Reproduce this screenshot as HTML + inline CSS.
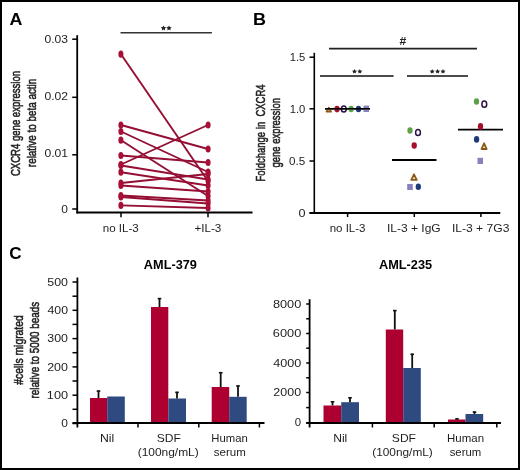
<!DOCTYPE html>
<html><head><meta charset="utf-8"><style>
html,body{margin:0;padding:0;background:#fff;}
body{width:520px;height:470px;overflow:hidden;}
svg{display:block;font-family:"Liberation Sans", sans-serif;will-change:transform;}
</style></head><body>
<svg width="520" height="470" viewBox="0 0 520 470">
<rect x="0" y="0" width="520" height="470" fill="#fff"/>
<text x="9.55" y="24.80" font-size="16.8" font-weight="bold" fill="#000" textLength="12.93" lengthAdjust="spacingAndGlyphs" >A</text>
<text transform="translate(20.00,175.60) rotate(-90)" x="-0.48" y="0" font-size="13" font-weight="normal" fill="#222" stroke="#222" stroke-width="0.55" textLength="105.11" lengthAdjust="spacingAndGlyphs" xml:space="preserve">CXCR4 gene expression</text>
<text transform="translate(36.30,166.50) rotate(-90)" x="-0.64" y="0" font-size="13" font-weight="normal" fill="#222" stroke="#222" stroke-width="0.55" textLength="88.38" lengthAdjust="spacingAndGlyphs" xml:space="preserve">relative to beta actin</text>
<line x1="77.2" y1="35.2" x2="77.2" y2="213.5" stroke="#000" stroke-width="1.8"/>
<line x1="76.5" y1="212.5" x2="252.5" y2="212.5" stroke="#000" stroke-width="2"/>
<line x1="72.2" y1="39.2" x2="77" y2="39.2" stroke="#000" stroke-width="1.5"/>
<text x="44.52" y="43.40" font-size="11" font-weight="normal" fill="#1e1e1e" textLength="23.54" lengthAdjust="spacingAndGlyphs" >0.03</text>
<line x1="72.2" y1="97.3" x2="77" y2="97.3" stroke="#000" stroke-width="1.5"/>
<text x="44.51" y="99.60" font-size="11" font-weight="normal" fill="#1e1e1e" textLength="23.61" lengthAdjust="spacingAndGlyphs" >0.02</text>
<line x1="72.2" y1="154.8" x2="77" y2="154.8" stroke="#000" stroke-width="1.5"/>
<text x="44.51" y="156.60" font-size="11" font-weight="normal" fill="#1e1e1e" textLength="23.61" lengthAdjust="spacingAndGlyphs" >0.01</text>
<line x1="72.2" y1="209" x2="77" y2="209" stroke="#000" stroke-width="1.5"/>
<text x="61.32" y="212.50" font-size="11" font-weight="normal" fill="#1e1e1e" textLength="6.67" lengthAdjust="spacingAndGlyphs" >0</text>
<line x1="121" y1="213" x2="121" y2="217.2" stroke="#000" stroke-width="1.5"/>
<line x1="208" y1="213" x2="208" y2="217.2" stroke="#000" stroke-width="1.5"/>
<text x="102.75" y="231.80" font-size="10.5" font-weight="normal" fill="#1e1e1e" textLength="36.01" lengthAdjust="spacingAndGlyphs" >no IL-3</text>
<text x="194.42" y="231.80" font-size="10.5" font-weight="normal" fill="#1e1e1e" textLength="26.93" lengthAdjust="spacingAndGlyphs" >+IL-3</text>
<line x1="120.5" y1="32.8" x2="211.9" y2="32.8" stroke="#333" stroke-width="1.5"/>
<polygon points="163.50,25.40 164.32,27.07 166.16,27.33 164.83,28.63 165.15,30.47 163.50,29.60 161.85,30.47 162.17,28.63 160.84,27.33 162.68,27.07" fill="#222"/>
<polygon points="169.00,25.40 169.82,27.07 171.66,27.33 170.33,28.63 170.65,30.47 169.00,29.60 167.35,30.47 167.67,28.63 166.34,27.33 168.18,27.07" fill="#222"/>
<line x1="121" y1="54.2" x2="208" y2="181" stroke="#950E33" stroke-width="1.9"/>
<line x1="121" y1="125" x2="208" y2="149" stroke="#950E33" stroke-width="1.9"/>
<line x1="121" y1="131.5" x2="208" y2="172" stroke="#950E33" stroke-width="1.9"/>
<line x1="121" y1="140.2" x2="208" y2="196" stroke="#950E33" stroke-width="1.9"/>
<line x1="121" y1="155.5" x2="208" y2="162.5" stroke="#950E33" stroke-width="1.9"/>
<line x1="121" y1="164.5" x2="208" y2="125" stroke="#950E33" stroke-width="1.9"/>
<line x1="121" y1="165.5" x2="208" y2="179.5" stroke="#950E33" stroke-width="1.9"/>
<line x1="121" y1="172.2" x2="208" y2="185.5" stroke="#950E33" stroke-width="1.9"/>
<line x1="121" y1="183" x2="208" y2="174" stroke="#950E33" stroke-width="1.9"/>
<line x1="121" y1="185.5" x2="208" y2="191.5" stroke="#950E33" stroke-width="1.9"/>
<line x1="121" y1="195.5" x2="208" y2="200.5" stroke="#950E33" stroke-width="1.9"/>
<line x1="121" y1="197" x2="208" y2="203.5" stroke="#950E33" stroke-width="1.9"/>
<line x1="121" y1="205.4" x2="208" y2="208" stroke="#950E33" stroke-width="1.9"/>
<ellipse cx="120.9" cy="54.2" rx="2.5" ry="3.6" fill="#A80F36"/>
<ellipse cx="120.9" cy="125" rx="2.5" ry="3.6" fill="#A80F36"/>
<ellipse cx="120.9" cy="131.5" rx="2.5" ry="3.6" fill="#A80F36"/>
<ellipse cx="120.9" cy="140.2" rx="2.5" ry="3.6" fill="#A80F36"/>
<ellipse cx="120.9" cy="155.5" rx="2.5" ry="3.6" fill="#A80F36"/>
<ellipse cx="120.9" cy="164.5" rx="2.5" ry="3.6" fill="#A80F36"/>
<ellipse cx="120.9" cy="165.5" rx="2.5" ry="3.6" fill="#A80F36"/>
<ellipse cx="120.9" cy="172.2" rx="2.5" ry="3.6" fill="#A80F36"/>
<ellipse cx="120.9" cy="183" rx="2.5" ry="3.6" fill="#A80F36"/>
<ellipse cx="120.9" cy="185.5" rx="2.5" ry="3.6" fill="#A80F36"/>
<ellipse cx="120.9" cy="195.5" rx="2.5" ry="3.6" fill="#A80F36"/>
<ellipse cx="120.9" cy="197" rx="2.5" ry="3.6" fill="#A80F36"/>
<ellipse cx="120.9" cy="205.4" rx="2.5" ry="3.6" fill="#A80F36"/>
<ellipse cx="208.1" cy="181" rx="2.5" ry="3.6" fill="#A80F36"/>
<ellipse cx="208.1" cy="149" rx="2.5" ry="3.6" fill="#A80F36"/>
<ellipse cx="208.1" cy="172" rx="2.5" ry="3.6" fill="#A80F36"/>
<ellipse cx="208.1" cy="196" rx="2.5" ry="3.6" fill="#A80F36"/>
<ellipse cx="208.1" cy="162.5" rx="2.5" ry="3.6" fill="#A80F36"/>
<ellipse cx="208.1" cy="125" rx="2.5" ry="3.6" fill="#A80F36"/>
<ellipse cx="208.1" cy="179.5" rx="2.5" ry="3.6" fill="#A80F36"/>
<ellipse cx="208.1" cy="185.5" rx="2.5" ry="3.6" fill="#A80F36"/>
<ellipse cx="208.1" cy="174" rx="2.5" ry="3.6" fill="#A80F36"/>
<ellipse cx="208.1" cy="191.5" rx="2.5" ry="3.6" fill="#A80F36"/>
<ellipse cx="208.1" cy="200.5" rx="2.5" ry="3.6" fill="#A80F36"/>
<ellipse cx="208.1" cy="203.5" rx="2.5" ry="3.6" fill="#A80F36"/>
<ellipse cx="208.1" cy="208" rx="2.5" ry="3.6" fill="#A80F36"/>
<text x="253.03" y="24.80" font-size="16.8" font-weight="bold" fill="#000" textLength="13.02" lengthAdjust="spacingAndGlyphs" >B</text>
<text transform="translate(264.50,180.70) rotate(-90)" x="-0.76" y="0" font-size="13" font-weight="normal" fill="#222" stroke="#222" stroke-width="0.55" textLength="97.07" lengthAdjust="spacingAndGlyphs" xml:space="preserve">Foldchange in  CXCR4</text>
<text transform="translate(280.00,167.20) rotate(-90)" x="-0.38" y="0" font-size="13" font-weight="normal" fill="#222" stroke="#222" stroke-width="0.55" textLength="69.53" lengthAdjust="spacingAndGlyphs" xml:space="preserve">gene expression</text>
<line x1="314.3" y1="52.8" x2="314.3" y2="213.8" stroke="#000" stroke-width="1.6"/>
<line x1="309.5" y1="213" x2="500.3" y2="213" stroke="#000" stroke-width="1.8"/>
<line x1="309.5" y1="57.2" x2="314.3" y2="57.2" stroke="#000" stroke-width="1.5"/>
<text x="289.66" y="61.10" font-size="11" font-weight="normal" fill="#1e1e1e" textLength="15.59" lengthAdjust="spacingAndGlyphs" >1.5</text>
<line x1="309.5" y1="108.8" x2="314.3" y2="108.8" stroke="#000" stroke-width="1.5"/>
<text x="289.66" y="112.70" font-size="11" font-weight="normal" fill="#1e1e1e" textLength="15.59" lengthAdjust="spacingAndGlyphs" >1.0</text>
<line x1="309.5" y1="161" x2="314.3" y2="161" stroke="#000" stroke-width="1.5"/>
<text x="289.03" y="164.90" font-size="11" font-weight="normal" fill="#1e1e1e" textLength="16.24" lengthAdjust="spacingAndGlyphs" >0.5</text>
<line x1="309.5" y1="212.8" x2="314.3" y2="212.8" stroke="#000" stroke-width="1.5"/>
<text x="298.49" y="216.70" font-size="11" font-weight="normal" fill="#1e1e1e" textLength="7.03" lengthAdjust="spacingAndGlyphs" >0</text>
<line x1="347.6" y1="213" x2="347.6" y2="217" stroke="#000" stroke-width="1.5"/>
<line x1="414.3" y1="213" x2="414.3" y2="217" stroke="#000" stroke-width="1.5"/>
<line x1="480.9" y1="213" x2="480.9" y2="217" stroke="#000" stroke-width="1.5"/>
<text x="329.65" y="231.80" font-size="10.5" font-weight="normal" fill="#1e1e1e" textLength="35.91" lengthAdjust="spacingAndGlyphs" >no IL-3</text>
<text x="386.92" y="231.80" font-size="10.5" font-weight="normal" fill="#1e1e1e" textLength="53.78" lengthAdjust="spacingAndGlyphs" >IL-3 + IgG</text>
<text x="451.91" y="231.80" font-size="10.5" font-weight="normal" fill="#1e1e1e" textLength="57.47" lengthAdjust="spacingAndGlyphs" >IL-3 + 7G3</text>
<line x1="329" y1="48.6" x2="477" y2="48.6" stroke="#222" stroke-width="1.6"/>
<text x="399.62" y="44.70" font-size="10" font-weight="bold" fill="#222" textLength="6.78" lengthAdjust="spacingAndGlyphs" >#</text>
<line x1="320" y1="76" x2="393.6" y2="76" stroke="#111" stroke-width="1.3"/>
<line x1="407" y1="76" x2="468" y2="76" stroke="#111" stroke-width="1.3"/>
<polygon points="354.50,68.90 355.26,70.45 356.97,70.70 355.74,71.90 356.03,73.60 354.50,72.80 352.97,73.60 353.26,71.90 352.03,70.70 353.74,70.45" fill="#222"/>
<polygon points="359.80,68.90 360.56,70.45 362.27,70.70 361.04,71.90 361.33,73.60 359.80,72.80 358.27,73.60 358.56,71.90 357.33,70.70 359.04,70.45" fill="#222"/>
<polygon points="432.20,68.90 432.96,70.45 434.67,70.70 433.44,71.90 433.73,73.60 432.20,72.80 430.67,73.60 430.96,71.90 429.73,70.70 431.44,70.45" fill="#222"/>
<polygon points="437.60,68.90 438.36,70.45 440.07,70.70 438.84,71.90 439.13,73.60 437.60,72.80 436.07,73.60 436.36,71.90 435.13,70.70 436.84,70.45" fill="#222"/>
<polygon points="443.00,68.90 443.76,70.45 445.47,70.70 444.24,71.90 444.53,73.60 443.00,72.80 441.47,73.60 441.76,71.90 440.53,70.70 442.24,70.45" fill="#222"/>
<line x1="325" y1="108.8" x2="370" y2="108.8" stroke="#000" stroke-width="1.6"/>
<line x1="392" y1="160" x2="436.5" y2="160" stroke="#000" stroke-width="1.8"/>
<line x1="458" y1="129.6" x2="503" y2="129.6" stroke="#000" stroke-width="1.6"/>
<polygon points="328.8,107.6 326.55,111.69999999999999 331.05,111.69999999999999" fill="#f6e2b0" stroke="#8A5A1A" stroke-width="1.8" stroke-linejoin="round"/>
<ellipse cx="337.0" cy="109.1" rx="2.65" ry="3.3" fill="#A5102F"/>
<ellipse cx="343.8" cy="109.0" rx="2.4" ry="3.1" fill="none" stroke="#2A1048" stroke-width="1.5"/>
<ellipse cx="351.1" cy="109.0" rx="2.65" ry="3.3" fill="#5EA04A"/>
<ellipse cx="358.5" cy="109.0" rx="2.65" ry="3.3" fill="#1E3A78"/>
<rect x="363.5" y="105.6" width="5.50" height="6.40" fill="#8682BE"/>
<line x1="325" y1="108.8" x2="370" y2="108.8" stroke="#000" stroke-width="1.4"/>
<ellipse cx="410" cy="130.5" rx="2.65" ry="3.3" fill="#5EA04A"/>
<ellipse cx="418" cy="132.5" rx="2.4" ry="3.1" fill="none" stroke="#2A1048" stroke-width="1.5"/>
<ellipse cx="414.2" cy="145.5" rx="2.65" ry="3.3" fill="#A5102F"/>
<polygon points="414,174.3 411.25,179.9 416.75,179.9" fill="#f6e2b0" stroke="#8A5A1A" stroke-width="1.8" stroke-linejoin="round"/>
<rect x="407.2" y="184" width="5.60" height="6.00" fill="#8682BE"/>
<ellipse cx="418.3" cy="186.8" rx="2.65" ry="3.3" fill="#1E3A78"/>
<ellipse cx="476.5" cy="101.5" rx="2.65" ry="3.3" fill="#5EA04A"/>
<ellipse cx="484.3" cy="104.2" rx="2.4" ry="3.1" fill="none" stroke="#2A1048" stroke-width="1.5"/>
<ellipse cx="480.5" cy="126.4" rx="2.65" ry="3.3" fill="#A5102F"/>
<ellipse cx="476.6" cy="139.4" rx="2.65" ry="3.3" fill="#1E3A78"/>
<polygon points="484.1,143.3 481.5,149.0 486.70000000000005,149.0" fill="#f6e2b0" stroke="#8A5A1A" stroke-width="1.8" stroke-linejoin="round"/>
<rect x="477.5" y="157.8" width="5.50" height="6.20" fill="#8682BE"/>
<text x="9.32" y="258.90" font-size="16.8" font-weight="bold" fill="#000" textLength="12.35" lengthAdjust="spacingAndGlyphs" >C</text>
<text transform="translate(22.60,384.70) rotate(-90)" x="-0.05" y="0" font-size="13" font-weight="normal" fill="#222" stroke="#222" stroke-width="0.55" textLength="69.43" lengthAdjust="spacingAndGlyphs" xml:space="preserve">#cells migrated</text>
<text transform="translate(38.80,397.90) rotate(-90)" x="-0.64" y="0" font-size="13" font-weight="normal" fill="#222" stroke="#222" stroke-width="0.55" textLength="96.59" lengthAdjust="spacingAndGlyphs" xml:space="preserve">relative to 5000 beads</text>
<line x1="77.4" y1="277.5" x2="77.4" y2="427.5" stroke="#000" stroke-width="1.8"/>
<line x1="72.5" y1="282" x2="77.4" y2="282" stroke="#000" stroke-width="1.5"/>
<text x="47.30" y="285.70" font-size="10.5" font-weight="normal" fill="#1e1e1e" textLength="20.74" lengthAdjust="spacingAndGlyphs" >500</text>
<line x1="72.5" y1="310.3" x2="77.4" y2="310.3" stroke="#000" stroke-width="1.5"/>
<text x="47.49" y="314.00" font-size="10.5" font-weight="normal" fill="#1e1e1e" textLength="20.54" lengthAdjust="spacingAndGlyphs" >400</text>
<line x1="72.5" y1="338.6" x2="77.4" y2="338.6" stroke="#000" stroke-width="1.5"/>
<text x="47.30" y="342.30" font-size="10.5" font-weight="normal" fill="#1e1e1e" textLength="20.74" lengthAdjust="spacingAndGlyphs" >300</text>
<line x1="72.5" y1="366.9" x2="77.4" y2="366.9" stroke="#000" stroke-width="1.5"/>
<text x="47.17" y="370.60" font-size="10.5" font-weight="normal" fill="#1e1e1e" textLength="20.87" lengthAdjust="spacingAndGlyphs" >200</text>
<line x1="72.5" y1="395.2" x2="77.4" y2="395.2" stroke="#000" stroke-width="1.5"/>
<text x="46.85" y="398.90" font-size="10.5" font-weight="normal" fill="#1e1e1e" textLength="21.21" lengthAdjust="spacingAndGlyphs" >100</text>
<line x1="72.5" y1="423.5" x2="77.4" y2="423.5" stroke="#000" stroke-width="1.5"/>
<text x="61.32" y="427.20" font-size="10.5" font-weight="normal" fill="#1e1e1e" textLength="6.67" lengthAdjust="spacingAndGlyphs" >0</text>
<line x1="72.5" y1="296.2" x2="77.4" y2="296.2" stroke="#000" stroke-width="1.5"/>
<line x1="72.5" y1="324.4" x2="77.4" y2="324.4" stroke="#000" stroke-width="1.5"/>
<line x1="72.5" y1="352.7" x2="77.4" y2="352.7" stroke="#000" stroke-width="1.5"/>
<line x1="72.5" y1="381" x2="77.4" y2="381" stroke="#000" stroke-width="1.5"/>
<line x1="72.5" y1="409.3" x2="77.4" y2="409.3" stroke="#000" stroke-width="1.5"/>
<line x1="138" y1="423" x2="138" y2="427.5" stroke="#000" stroke-width="1.5"/>
<line x1="198.8" y1="423" x2="198.8" y2="427.5" stroke="#000" stroke-width="1.5"/>
<line x1="259.4" y1="423" x2="259.4" y2="427.5" stroke="#000" stroke-width="1.5"/>
<rect x="90" y="398" width="17.20" height="25.00" fill="#AD0030"/>
<rect x="107.2" y="396.5" width="17.60" height="26.50" fill="#2E4A80"/>
<rect x="151" y="307" width="17.30" height="116.00" fill="#AD0030"/>
<rect x="168.3" y="398.5" width="17.70" height="24.50" fill="#2E4A80"/>
<rect x="211.7" y="387" width="17.50" height="36.00" fill="#AD0030"/>
<rect x="229.2" y="396.8" width="17.50" height="26.20" fill="#2E4A80"/>
<line x1="98.5" y1="390.5" x2="98.5" y2="398" stroke="#111" stroke-width="1.8"/>
<line x1="96.7" y1="391.1" x2="100.3" y2="391.1" stroke="#111" stroke-width="1.6"/>
<line x1="159.5" y1="298" x2="159.5" y2="307" stroke="#111" stroke-width="1.8"/>
<line x1="157.7" y1="298.6" x2="161.3" y2="298.6" stroke="#111" stroke-width="1.6"/>
<line x1="177" y1="391.8" x2="177" y2="398.5" stroke="#111" stroke-width="1.8"/>
<line x1="175.2" y1="392.40000000000003" x2="178.8" y2="392.40000000000003" stroke="#111" stroke-width="1.6"/>
<line x1="220.7" y1="372.1" x2="220.7" y2="387" stroke="#111" stroke-width="1.8"/>
<line x1="218.89999999999998" y1="372.70000000000005" x2="222.5" y2="372.70000000000005" stroke="#111" stroke-width="1.6"/>
<line x1="238" y1="385.4" x2="238" y2="396.8" stroke="#111" stroke-width="1.8"/>
<line x1="236.2" y1="386.0" x2="239.8" y2="386.0" stroke="#111" stroke-width="1.6"/>
<line x1="72.5" y1="423" x2="264.5" y2="423" stroke="#000" stroke-width="2"/>
<text x="143.88" y="268.90" font-size="12.6" font-weight="bold" fill="#000" textLength="53.00" lengthAdjust="spacingAndGlyphs" >AML-379</text>
<text x="100.02" y="442.20" font-size="11" font-weight="normal" fill="#1e1e1e" textLength="14.30" lengthAdjust="spacingAndGlyphs" >Nil</text>
<text x="156.76" y="442.30" font-size="11" font-weight="normal" fill="#1e1e1e" textLength="24.13" lengthAdjust="spacingAndGlyphs" >SDF</text>
<text x="137.68" y="456.20" font-size="11" font-weight="normal" fill="#1e1e1e" textLength="61.08" lengthAdjust="spacingAndGlyphs" >(100ng/mL)</text>
<text x="211.30" y="442.30" font-size="11" font-weight="normal" fill="#1e1e1e" textLength="36.42" lengthAdjust="spacingAndGlyphs" >Human</text>
<text x="213.86" y="456.20" font-size="11" font-weight="normal" fill="#1e1e1e" textLength="31.93" lengthAdjust="spacingAndGlyphs" >serum</text>
<line x1="309.6" y1="299.2" x2="309.6" y2="427.5" stroke="#000" stroke-width="1.8"/>
<line x1="306.2" y1="304" x2="309.6" y2="304" stroke="#000" stroke-width="1.5"/>
<text x="272.93" y="307.70" font-size="10.5" font-weight="normal" fill="#1e1e1e" textLength="28.38" lengthAdjust="spacingAndGlyphs" >8000</text>
<line x1="306.2" y1="333.5" x2="309.6" y2="333.5" stroke="#000" stroke-width="1.5"/>
<text x="272.86" y="337.20" font-size="10.5" font-weight="normal" fill="#1e1e1e" textLength="28.45" lengthAdjust="spacingAndGlyphs" >6000</text>
<line x1="306.2" y1="363" x2="309.6" y2="363" stroke="#000" stroke-width="1.5"/>
<text x="273.18" y="366.70" font-size="10.5" font-weight="normal" fill="#1e1e1e" textLength="28.12" lengthAdjust="spacingAndGlyphs" >4000</text>
<line x1="306.2" y1="392.5" x2="309.6" y2="392.5" stroke="#000" stroke-width="1.5"/>
<text x="273.38" y="396.20" font-size="10.5" font-weight="normal" fill="#1e1e1e" textLength="27.72" lengthAdjust="spacingAndGlyphs" >2000</text>
<line x1="306.2" y1="422.7" x2="309.6" y2="422.7" stroke="#000" stroke-width="1.5"/>
<text x="294.75" y="426.40" font-size="10.5" font-weight="normal" fill="#1e1e1e" textLength="6.32" lengthAdjust="spacingAndGlyphs" >0</text>
<line x1="306.2" y1="318.8" x2="309.6" y2="318.8" stroke="#000" stroke-width="1.5"/>
<line x1="306.2" y1="348.2" x2="309.6" y2="348.2" stroke="#000" stroke-width="1.5"/>
<line x1="306.2" y1="377.8" x2="309.6" y2="377.8" stroke="#000" stroke-width="1.5"/>
<line x1="306.2" y1="407.6" x2="309.6" y2="407.6" stroke="#000" stroke-width="1.5"/>
<line x1="372.4" y1="423" x2="372.4" y2="427.5" stroke="#000" stroke-width="1.5"/>
<line x1="434.2" y1="423" x2="434.2" y2="427.5" stroke="#000" stroke-width="1.5"/>
<line x1="496.8" y1="423" x2="496.8" y2="427.5" stroke="#000" stroke-width="1.5"/>
<rect x="323.5" y="405.5" width="17.70" height="17.50" fill="#AD0030"/>
<rect x="341.2" y="402.2" width="17.80" height="20.80" fill="#2E4A80"/>
<rect x="385.8" y="329.5" width="17.40" height="93.50" fill="#AD0030"/>
<rect x="403.2" y="368" width="17.60" height="55.00" fill="#2E4A80"/>
<rect x="448" y="419.5" width="17.50" height="3.50" fill="#AD0030"/>
<rect x="465.5" y="414" width="17.70" height="9.00" fill="#2E4A80"/>
<line x1="332.5" y1="401.2" x2="332.5" y2="405.5" stroke="#111" stroke-width="1.8"/>
<line x1="330.7" y1="401.8" x2="334.3" y2="401.8" stroke="#111" stroke-width="1.6"/>
<line x1="350" y1="397.2" x2="350" y2="402.2" stroke="#111" stroke-width="1.8"/>
<line x1="348.2" y1="397.8" x2="351.8" y2="397.8" stroke="#111" stroke-width="1.6"/>
<line x1="394.8" y1="310" x2="394.8" y2="329.5" stroke="#111" stroke-width="1.8"/>
<line x1="393.0" y1="310.6" x2="396.6" y2="310.6" stroke="#111" stroke-width="1.6"/>
<line x1="412.2" y1="353.7" x2="412.2" y2="368" stroke="#111" stroke-width="1.8"/>
<line x1="410.4" y1="354.3" x2="414.0" y2="354.3" stroke="#111" stroke-width="1.6"/>
<line x1="457" y1="418.3" x2="457" y2="419.5" stroke="#111" stroke-width="1.8"/>
<line x1="455.2" y1="418.90000000000003" x2="458.8" y2="418.90000000000003" stroke="#111" stroke-width="1.6"/>
<line x1="474.5" y1="411.5" x2="474.5" y2="414" stroke="#111" stroke-width="1.8"/>
<line x1="472.7" y1="412.1" x2="476.3" y2="412.1" stroke="#111" stroke-width="1.6"/>
<line x1="306.2" y1="423" x2="501" y2="423" stroke="#000" stroke-width="2"/>
<text x="378.98" y="268.90" font-size="12.6" font-weight="bold" fill="#000" textLength="53.17" lengthAdjust="spacingAndGlyphs" >AML-235</text>
<text x="333.24" y="442.30" font-size="11" font-weight="normal" fill="#1e1e1e" textLength="14.07" lengthAdjust="spacingAndGlyphs" >Nil</text>
<text x="391.86" y="442.30" font-size="11" font-weight="normal" fill="#1e1e1e" textLength="24.13" lengthAdjust="spacingAndGlyphs" >SDF</text>
<text x="372.29" y="456.20" font-size="11" font-weight="normal" fill="#1e1e1e" textLength="60.47" lengthAdjust="spacingAndGlyphs" >(100ng/mL)</text>
<text x="447.08" y="442.30" font-size="11" font-weight="normal" fill="#1e1e1e" textLength="36.95" lengthAdjust="spacingAndGlyphs" >Human</text>
<text x="449.66" y="456.20" font-size="11" font-weight="normal" fill="#1e1e1e" textLength="31.52" lengthAdjust="spacingAndGlyphs" >serum</text>
<rect x="1" y="1" width="518" height="468" fill="none" stroke="#000" stroke-width="2"/>
</svg>
</body></html>
